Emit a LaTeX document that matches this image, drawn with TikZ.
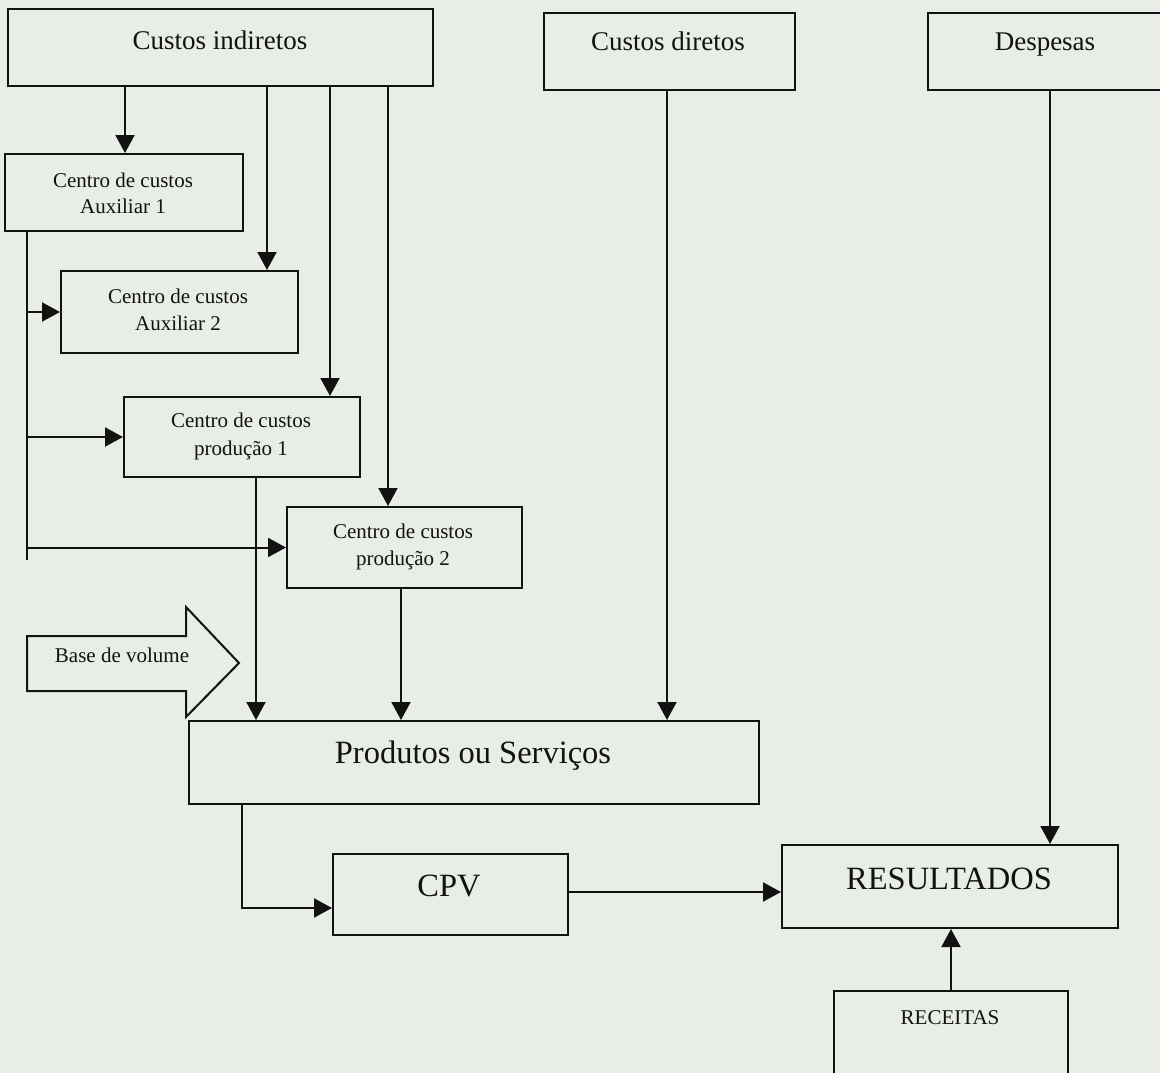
\documentclass[tikz,border=0pt]{standalone}
\usepackage{fontspec}
\setmainfont{Liberation Serif}
\usetikzlibrary{arrows.meta}
\definecolor{paper}{RGB}{232,237,229}
\definecolor{ink}{RGB}{18,18,18}

\begin{document}
\begin{tikzpicture}[x=1pt,y=-1pt,
  box/.style={draw=ink, line width=2pt, inner sep=0pt, anchor=north west},
  link/.style={draw=ink, line width=2pt},
  arr/.style={link, -{Triangle[length=18pt,width=19pt]}},
  txt/.style={text=ink, anchor=base, inner sep=0pt},
  bigtxt/.style={txt, font=\fontsize{32.5}{38}\selectfont},
  midtxt/.style={txt, font=\fontsize{27}{32}\selectfont},
  smalltxt/.style={txt, font=\fontsize{21}{26}\selectfont},
]
\useasboundingbox (0,0) rectangle (1160,1073);
\clip (0,0) rectangle (1160,1073);
\fill[paper] (0,0) rectangle (1160,1073);

% cost sources
\node[box, minimum width=425pt, minimum height=77pt] (ci)   at (7,8)   {};
\node[box, minimum width=251pt, minimum height=77pt] (cd)   at (543,12) {};
\node[box, minimum width=236pt, minimum height=77pt] (desp) at (927,12) {};
\node[midtxt] (ciT)   at (220,50)  {Custos indiretos};
\node[midtxt] (cdT)   at (668,51)  {Custos diretos};
\node[midtxt] (despT) at (1045,51) {Despesas};

% cost centres
\node[box, minimum width=238pt, minimum height=77pt] (aux1)  at (4,153)   {};
\node[box, minimum width=237pt, minimum height=82pt] (aux2)  at (60,270)  {};
\node[box, minimum width=236pt, minimum height=80pt] (prod1) at (123,396) {};
\node[box, minimum width=235pt, minimum height=81pt] (prod2) at (286,506) {};
\node[smalltxt] (aux1a)  at (123,187) {Centro de custos};
\node[smalltxt] (aux1b)  at (123,213) {Auxiliar 1};
\node[smalltxt] (aux2a)  at (178,303) {Centro de custos};
\node[smalltxt] (aux2b)  at (178,330) {Auxiliar 2};
\node[smalltxt] (prod1a) at (241,427) {Centro de custos};
\node[smalltxt] (prod1b) at (241,455) {produção 1};
\node[smalltxt] (prod2a) at (403,538) {Centro de custos};
\node[smalltxt] (prod2b) at (403,565) {produção 2};

% volume base block arrow
\draw[link, line join=miter] (27,636) -- (186,636) -- (186,607) -- (239,663)
  -- (186,717) -- (186,691) -- (27,691) -- cycle;
\node[smalltxt] (vol) at (122,662) {Base de volume};

% products, cost of goods, results
\node[box, minimum width=570pt, minimum height=83pt] (prod) at (188,720) {};
\node[box, minimum width=235pt, minimum height=81pt] (cpv)  at (332,853) {};
\node[box, minimum width=336pt, minimum height=83pt] (res)  at (781,844) {};
\node[box, minimum width=234pt, minimum height=100pt] (rec) at (833,990) {};
\node[bigtxt]   (prodT) at (473,763) {Produtos ou Serviços};
\node[bigtxt]   (cpvT)  at (449,896) {CPV};
\node[bigtxt]   (resT)  at (949,889) {RESULTADOS};
\node[smalltxt] (recT)  at (950,1024) {RECEITAS};

% connector columns and rows
\coordinate (c1) at (125,0);
\coordinate (c2) at (267,0);
\coordinate (c3) at (330,0);
\coordinate (c4) at (388,0);
\coordinate (bus) at (27,0);
\coordinate (busend) at (0,560);
\coordinate (c5) at (256,0);
\coordinate (c6) at (401,0);
\coordinate (cdx) at (667,0);
\coordinate (dsx) at (1050,0);
\coordinate (c7) at (242,0);
\coordinate (turn) at (0,908);
\coordinate (row) at (0,892);
\coordinate (c8) at (951,0);

% indirect costs into the cost centres
\draw[arr] (c1 |- ci.south) -- (c1 |- aux1.north);
\draw[arr] (c2 |- ci.south) -- (c2 |- aux2.north);
\draw[arr] (c3 |- ci.south) -- (c3 |- prod1.north);
\draw[arr] (c4 |- ci.south) -- (c4 |- prod2.north);

% auxiliary centre 1 distributes to the others
\draw[link] (bus |- aux1.south) -- (bus |- busend);
\draw[arr] (bus |- aux2.west)  -- (aux2.west);
\draw[arr] (bus |- prod1.west) -- (prod1.west);
\draw[arr] (bus |- prod2.west) -- (prod2.west);

% into products
\draw[arr] (c5 |- prod1.south) -- (c5 |- prod.north);
\draw[arr] (c6 |- prod2.south) -- (c6 |- prod.north);
\draw[arr] (cdx |- cd.south) -- (cdx |- prod.north);

% expenses, cost of goods and revenues into results
\draw[arr] (dsx |- desp.south) -- (dsx |- res.north);
\draw[arr] (c7 |- prod.south) |- (cpv.west |- turn);
\draw[arr] (cpv.east |- row) -- (res.west |- row);
\draw[arr] (c8 |- rec.north) -- (c8 |- res.south);
\end{tikzpicture}
\end{document}
